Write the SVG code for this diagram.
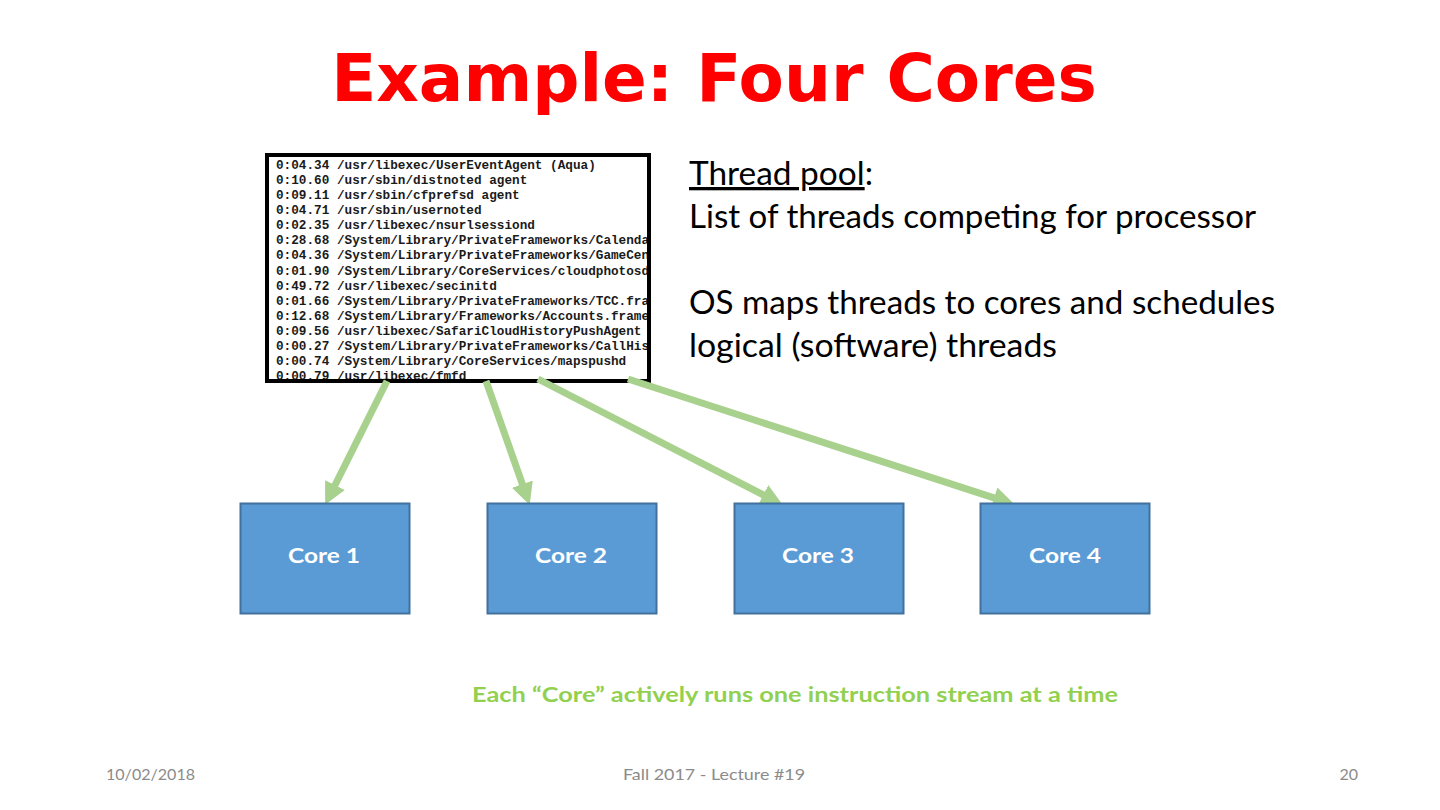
<svg xmlns="http://www.w3.org/2000/svg" width="1440" height="810" viewBox="0 0 1440 810">
<style>
.title{font-family:"DejaVu Sans",sans-serif;font-weight:bold;font-size:66px;fill:#ff0000}
.body{font-family:Lato,"Open Sans",sans-serif;font-size:33px;fill:#000}
.mono{font-family:"Liberation Mono","DejaVu Sans Mono",monospace;font-size:12.7px;font-weight:bold;fill:#1a1a1a}
.core{fill:#5b9bd5;stroke:#41719c;stroke-width:2}
.corelbl{font-family:Lato,"Open Sans",sans-serif;font-weight:bold;font-size:21px;fill:#fff}
.note{font-family:Lato,"Open Sans",sans-serif;font-weight:bold;font-size:21px;fill:#92d050}
.foot{font-family:Lato,"Open Sans",sans-serif;font-size:16px;fill:#8b8b8b}
.arrow{stroke:#a9d18e;stroke-width:7;fill:none}
</style>
<defs>
<marker id="ah" markerUnits="userSpaceOnUse" markerWidth="24" markerHeight="24" refX="4" refY="11" orient="auto">
<path d="M0,0 L22,11 L0,22 z" fill="#a9d18e"/>
</marker>
<clipPath id="clipList"><rect x="267" y="155" width="382" height="226"/></clipPath>
</defs>
<rect width="1440" height="810" fill="#fff"/>
<text class="title" x="714" y="101" text-anchor="middle">Example: Four Cores</text>

<g id="thread-list">
<g clip-path="url(#clipList)">
<text class="mono" x="276" y="169">0:04.34 /usr/libexec/UserEventAgent (Aqua)</text>
<text class="mono" x="276" y="184">0:10.60 /usr/sbin/distnoted agent</text>
<text class="mono" x="276" y="199">0:09.11 /usr/sbin/cfprefsd agent</text>
<text class="mono" x="276" y="214">0:04.71 /usr/sbin/usernoted</text>
<text class="mono" x="276" y="229">0:02.35 /usr/libexec/nsurlsessiond</text>
<text class="mono" x="276" y="244">0:28.68 /System/Library/PrivateFrameworks/CalendarAgent</text>
<text class="mono" x="276" y="259">0:04.36 /System/Library/PrivateFrameworks/GameCenter</text>
<text class="mono" x="276" y="275">0:01.90 /System/Library/CoreServices/cloudphotosd</text>
<text class="mono" x="276" y="290">0:49.72 /usr/libexec/secinitd</text>
<text class="mono" x="276" y="305">0:01.66 /System/Library/PrivateFrameworks/TCC.framework</text>
<text class="mono" x="276" y="320">0:12.68 /System/Library/Frameworks/Accounts.framework</text>
<text class="mono" x="276" y="335">0:09.56 /usr/libexec/SafariCloudHistoryPushAgent</text>
<text class="mono" x="276" y="350">0:00.27 /System/Library/PrivateFrameworks/CallHistory</text>
<text class="mono" x="276" y="365">0:00.74 /System/Library/CoreServices/mapspushd</text>
<text class="mono" x="276" y="380">0:00.79 /usr/libexec/fmfd</text>
</g>
<rect x="267" y="155" width="382" height="226" fill="none" stroke="#000" stroke-width="4"/>
</g>

<g id="description">
<text class="body" x="689" y="185" textLength="184" lengthAdjust="spacingAndGlyphs"><tspan text-decoration="underline">Thread pool</tspan>:</text>
<text class="body" x="689" y="228" textLength="567" lengthAdjust="spacingAndGlyphs">List of threads competing for processor</text>
<text class="body" x="689" y="314" textLength="586" lengthAdjust="spacingAndGlyphs">OS maps threads to cores and schedules</text>
<text class="body" x="689" y="357" textLength="368" lengthAdjust="spacingAndGlyphs">logical (software) threads</text>
</g>

<g id="connectors">
<line class="arrow" x1="387" y1="381" x2="333.2" y2="488.7" marker-end="url(#ah)"/>
<line class="arrow" x1="486" y1="381" x2="523.7" y2="487.9" marker-end="url(#ah)"/>
<line class="arrow" x1="538" y1="379" x2="766.8" y2="496.7" marker-end="url(#ah)"/>
<line class="arrow" x1="628" y1="379" x2="997.8" y2="499.1" marker-end="url(#ah)"/>
</g>

<g id="core1">
<rect class="core" x="240.5" y="503.5" width="169" height="110"/>
<text class="corelbl" x="324" y="563" text-anchor="middle" textLength="72" lengthAdjust="spacingAndGlyphs">Core 1</text>
</g>
<g id="core2">
<rect class="core" x="487.5" y="503.5" width="169" height="110"/>
<text class="corelbl" x="571" y="563" text-anchor="middle" textLength="72" lengthAdjust="spacingAndGlyphs">Core 2</text>
</g>
<g id="core3">
<rect class="core" x="734.5" y="503.5" width="169" height="110"/>
<text class="corelbl" x="818" y="563" text-anchor="middle" textLength="72" lengthAdjust="spacingAndGlyphs">Core 3</text>
</g>
<g id="core4">
<rect class="core" x="980.5" y="503.5" width="169" height="110"/>
<text class="corelbl" x="1065" y="563" text-anchor="middle" textLength="72" lengthAdjust="spacingAndGlyphs">Core 4</text>
</g>

<text class="note" x="795" y="702" text-anchor="middle" textLength="646" lengthAdjust="spacingAndGlyphs">Each “Core” actively runs one instruction stream at a time</text>

<text class="foot" x="106" y="780" textLength="89" lengthAdjust="spacingAndGlyphs">10/02/2018</text>
<text class="foot" x="714" y="780" text-anchor="middle" textLength="182" lengthAdjust="spacingAndGlyphs">Fall 2017 - Lecture #19</text>
<text class="foot" x="1358" y="780" text-anchor="end">20</text>
</svg>
